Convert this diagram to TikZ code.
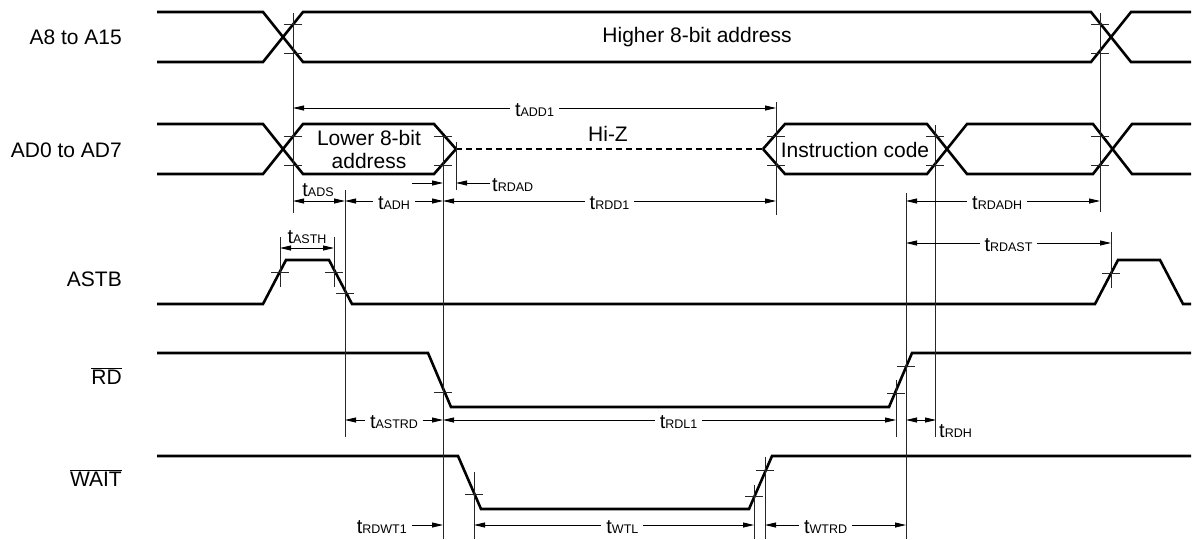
\documentclass[tikz,border=0pt]{standalone}
\usepackage{fontspec}
\setmainfont{Liberation Sans}
\usetikzlibrary{arrows.meta}

\newcommand{\tsub}[1]{t{\fontsize{12.5}{14}\selectfont #1}}

\begin{document}
\begin{tikzpicture}[x=1pt,y=-1pt,
    sig/.style={line width=2.6pt},
    refline/.style={line width=0.8pt,black!85},
    tickmark/.style={line width=0.8pt,black!85},
    dimline/.style={line width=0.8pt,{Triangle[length=11pt,width=5pt]}-{Triangle[length=11pt,width=5pt]}},
    oneway/.style={line width=0.8pt,-{Triangle[length=11pt,width=5pt]}},
    tlab/.style={fill=white,inner xsep=5pt,inner ysep=1pt,yshift=-2pt,font=\fontsize{20}{22}\selectfont},
    siglab/.style={anchor=east,inner sep=0pt,font=\fontsize{21}{24}\selectfont},
    txt/.style={inner sep=0pt,font=\fontsize{21}{24}\selectfont}]
  \useasboundingbox (0,0) rectangle (1193,539);

  % signal names
  \node[siglab] (nA) at (122,37) {A8 to A15};
  \node[siglab] (nAD) at (122,150) {AD0 to AD7};
  \node[siglab] (nASTB) at (122,279) {ASTB};
  \node[siglab] (nRD) at (122,376) {$\overline{\mbox{RD}}$};
  \node[siglab] (nWAIT) at (122,478) {$\overline{\mbox{WAIT}}$};

  % A8 to A15
  \draw[sig] (157,12) -- (263,12) -- (303,62) -- (1091,62) -- (1131,12) -- (1191,12);
  \draw[sig] (157,62) -- (263,62) -- (303,12) -- (1091,12) -- (1131,62) -- (1191,62);
  \node[txt] (hiaddr) at (697,37) {Higher 8-bit address};

  % AD0 to AD7
  \draw[sig] (157,124) -- (263,124) -- (303,174) -- (434,174) -- (456,149);
  \draw[sig] (157,174) -- (263,174) -- (303,124) -- (434,124) -- (456,149);
  \draw[sig,dash pattern=on 6pt off 4pt] (456,149) -- (763,149);
  \draw[sig] (763,149) -- (785,124) -- (927,124) -- (967,174) -- (1093,174) -- (1132,124) -- (1191,124);
  \draw[sig] (763,149) -- (785,174) -- (927,174) -- (967,124) -- (1093,124) -- (1132,174) -- (1191,174);
  \node[txt,align=center] (loaddr) at (369,149) {Lower 8-bit\\[-1pt]address};
  \node[txt] (hiz) at (608,134) {Hi-Z};
  \node[txt] (instr) at (855,150) {Instruction code};

  % ASTB, RD, WAIT
  \draw[sig] (157,304) -- (263,304) -- (286,260) -- (329,260) -- (352,304) -- (1095,304)
    -- (1118,260) -- (1160,260) -- (1183,304) -- (1191,304);
  \draw[sig] (157,353) -- (428,353) -- (451,407) -- (889,407) -- (912,353) -- (1191,353);
  \draw[sig] (157,456) -- (458,456) -- (481,509) -- (749,509) -- (772,456) -- (1191,456);

  % reference lines
  \foreach \x/\a/\b in {293/13/213, 1100/13/212, 776/102/215, 935/125/437, 906/193/539,
      443/136/539, 456/142/190, 345/190/437, 280/237/287, 334/237/287, 1111/232/288,
      896/380/437, 474/472/539, 754/485/539, 765/457/539}
    \draw[refline] (\x,\a) -- (\x,\b);

  % ticks
  \foreach \x/\y in {293/24, 293/53, 1100/24, 1100/53, 293/136, 293/165, 443/136, 443/165,
      776/136, 776/165, 935/136, 935/165, 1100/136, 1100/165, 280/272, 334/272, 345/293,
      1111/273, 443/392, 896/393, 906/366, 474/494, 754/496, 765/470}
    \draw[tickmark] (\x-9,\y) -- (\x+9,\y);

  % timings
  \draw[dimline] (293,108) -- node[tlab] (tADD) {\tsub{ADD1}} (776,108);
  \draw[dimline] (293,201) -- (345,201);
  \node[tlab,fill=none,inner xsep=0pt] (tADS) at (318,188) {\tsub{ADS}};
  \draw[dimline] (345,201) -- node[tlab] (tADH) {\tsub{ADH}} (443,201);
  \draw[dimline] (443,201) -- node[tlab] (tRDD) {\tsub{RDD1}} (776,201);
  \draw[oneway] (412,183) -- (443,183);
  \draw[oneway] (490,183) -- (456,183);
  \node[tlab,fill=none,anchor=west,inner xsep=2pt] (tRDAD) at (490,183) {\tsub{RDAD}};
  \draw[dimline] (280,248) -- (334,248);
  \node[tlab,fill=none,inner xsep=0pt] (tASTH) at (307,235) {\tsub{ASTH}};
  \draw[dimline] (906,201) -- node[tlab,pos=0.47] (tRDADH) {\tsub{RDADH}} (1100,201);
  \draw[dimline] (906,243) -- node[tlab] (tRDAST) {\tsub{RDAST}} (1111,243);
  \draw[dimline] (345,420) -- node[tlab] (tASTRD) {\tsub{ASTRD}} (443,420);
  \draw[dimline] (443,420) -- node[tlab,pos=0.52] (tRDL) {\tsub{RDL1}} (896,420);
  \draw[dimline] (906,420) -- (936,420);
  \node[tlab,fill=none,anchor=west,inner xsep=2pt] (tRDH) at (937,429) {\tsub{RDH}};
  \draw[oneway] (412,525) -- (443,525);
  \node[tlab,fill=none,anchor=east,inner xsep=2pt] (tRDWT) at (409,525) {\tsub{RDWT1}};
  \draw[dimline] (474,525) -- node[tlab,pos=0.53] (tWTL) {\tsub{WTL}} (754,525);
  \draw[dimline] (765,525) -- node[tlab,pos=0.43] (tWTRD) {\tsub{WTRD}} (906,525);
\end{tikzpicture}
\end{document}
